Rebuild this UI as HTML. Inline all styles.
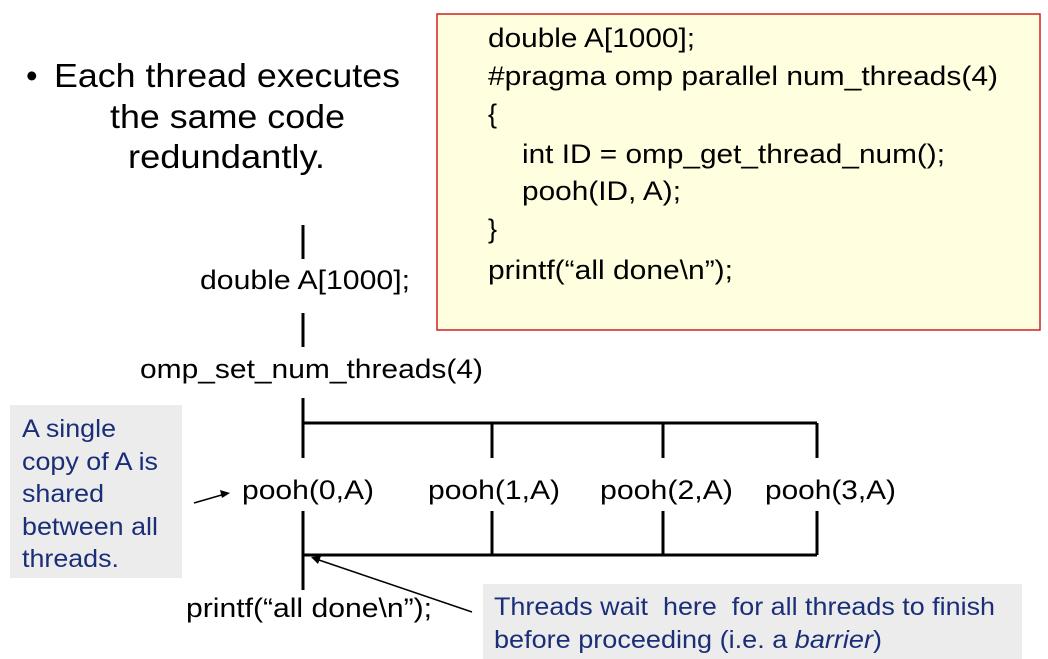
<!DOCTYPE html>
<html><head><meta charset="utf-8"><style>
html,body{margin:0;padding:0;background:#fff;}
svg{display:block;font-family:"Liberation Sans",Arial,sans-serif;}
</style></head><body>
<svg width="1048" height="659" viewBox="0 0 1048 659">
<rect x="437" y="14" width="603" height="316" fill="#ffffe0" stroke="#d02020" stroke-width="1.5"/>
<g font-size="27" fill="#000" lengthAdjust="spacingAndGlyphs">
<text x="488" y="47" textLength="207" lengthAdjust="spacingAndGlyphs">double A[1000];</text>
<text x="488" y="85" textLength="510" lengthAdjust="spacingAndGlyphs">#pragma omp parallel num_threads(4)</text>
<text x="488" y="123">{</text>
<text x="522" y="163" textLength="423" lengthAdjust="spacingAndGlyphs">int ID = omp_get_thread_num();</text>
<text x="522" y="200" textLength="159" lengthAdjust="spacingAndGlyphs">pooh(ID, A);</text>
<text x="488" y="238">}</text>
<text x="488" y="279" textLength="245" lengthAdjust="spacingAndGlyphs">printf(“all done\n”);</text>
</g>
<g font-size="33" fill="#000">
<text x="26" y="87">•</text>
<text x="54" y="87" textLength="346" lengthAdjust="spacingAndGlyphs">Each thread executes</text>
<text x="110" y="128" textLength="235" lengthAdjust="spacingAndGlyphs">the same code</text>
<text x="128" y="168" textLength="197" lengthAdjust="spacingAndGlyphs">redundantly.</text>
</g>
<g stroke="#000" stroke-width="3" fill="none">
<line x1="303" y1="225" x2="303" y2="259"/>
<line x1="303" y1="313" x2="303" y2="347"/>
<line x1="303" y1="398" x2="303" y2="458"/>
<line x1="303" y1="423" x2="817" y2="423"/>
<line x1="492" y1="423" x2="492" y2="458"/>
<line x1="663" y1="423" x2="663" y2="458"/>
<line x1="817" y1="423" x2="817" y2="458"/>
<line x1="303" y1="511" x2="303" y2="590"/>
<line x1="492" y1="511" x2="492" y2="555"/>
<line x1="663" y1="511" x2="663" y2="555"/>
<line x1="817" y1="511" x2="817" y2="555"/>
<line x1="303" y1="555" x2="817" y2="555"/>
</g>
<g font-size="27" fill="#000">
<text x="200" y="289" textLength="210" lengthAdjust="spacingAndGlyphs">double A[1000];</text>
<text x="140" y="378" textLength="343" lengthAdjust="spacingAndGlyphs">omp_set_num_threads(4)</text>
<text x="242" y="499" textLength="132" lengthAdjust="spacingAndGlyphs">pooh(0,A)</text>
<text x="428" y="499" textLength="132" lengthAdjust="spacingAndGlyphs">pooh(1,A)</text>
<text x="600" y="499" textLength="133" lengthAdjust="spacingAndGlyphs">pooh(2,A)</text>
<text x="765" y="499" textLength="131" lengthAdjust="spacingAndGlyphs">pooh(3,A)</text>
<text x="186" y="617" textLength="246" lengthAdjust="spacingAndGlyphs">printf(“all done\n”);</text>
</g>
<rect x="10" y="405" width="172" height="173" fill="#ececec"/>
<g font-size="25" fill="#1a2f78">
<text x="22" y="437" textLength="94" lengthAdjust="spacingAndGlyphs">A single</text>
<text x="22" y="470" textLength="136" lengthAdjust="spacingAndGlyphs">copy of A is</text>
<text x="22" y="502" textLength="82" lengthAdjust="spacingAndGlyphs">shared</text>
<text x="22" y="535" textLength="136" lengthAdjust="spacingAndGlyphs">between all</text>
<text x="22" y="567" textLength="97" lengthAdjust="spacingAndGlyphs">threads.</text>
</g>
<rect x="483" y="584" width="539" height="75" fill="#ececec"/>
<g font-size="25" fill="#1a2f78">
<text x="494" y="615" textLength="501" lengthAdjust="spacingAndGlyphs" xml:space="preserve">Threads wait  here  for all threads to finish</text>
<text x="494" y="648" textLength="388" lengthAdjust="spacingAndGlyphs">before proceeding (i.e. a <tspan font-style="italic">barrier</tspan>)</text>
</g>
<g stroke="#000" stroke-width="1.5" fill="#000">
<line x1="194" y1="503" x2="225" y2="494"/>
<polygon points="230,493 220,490 222,498" stroke="none"/>
<line x1="472" y1="612" x2="316" y2="559"/>
<polygon points="311,557 321,556 318,564" stroke="none"/>
</g>
</svg>
</body></html>
